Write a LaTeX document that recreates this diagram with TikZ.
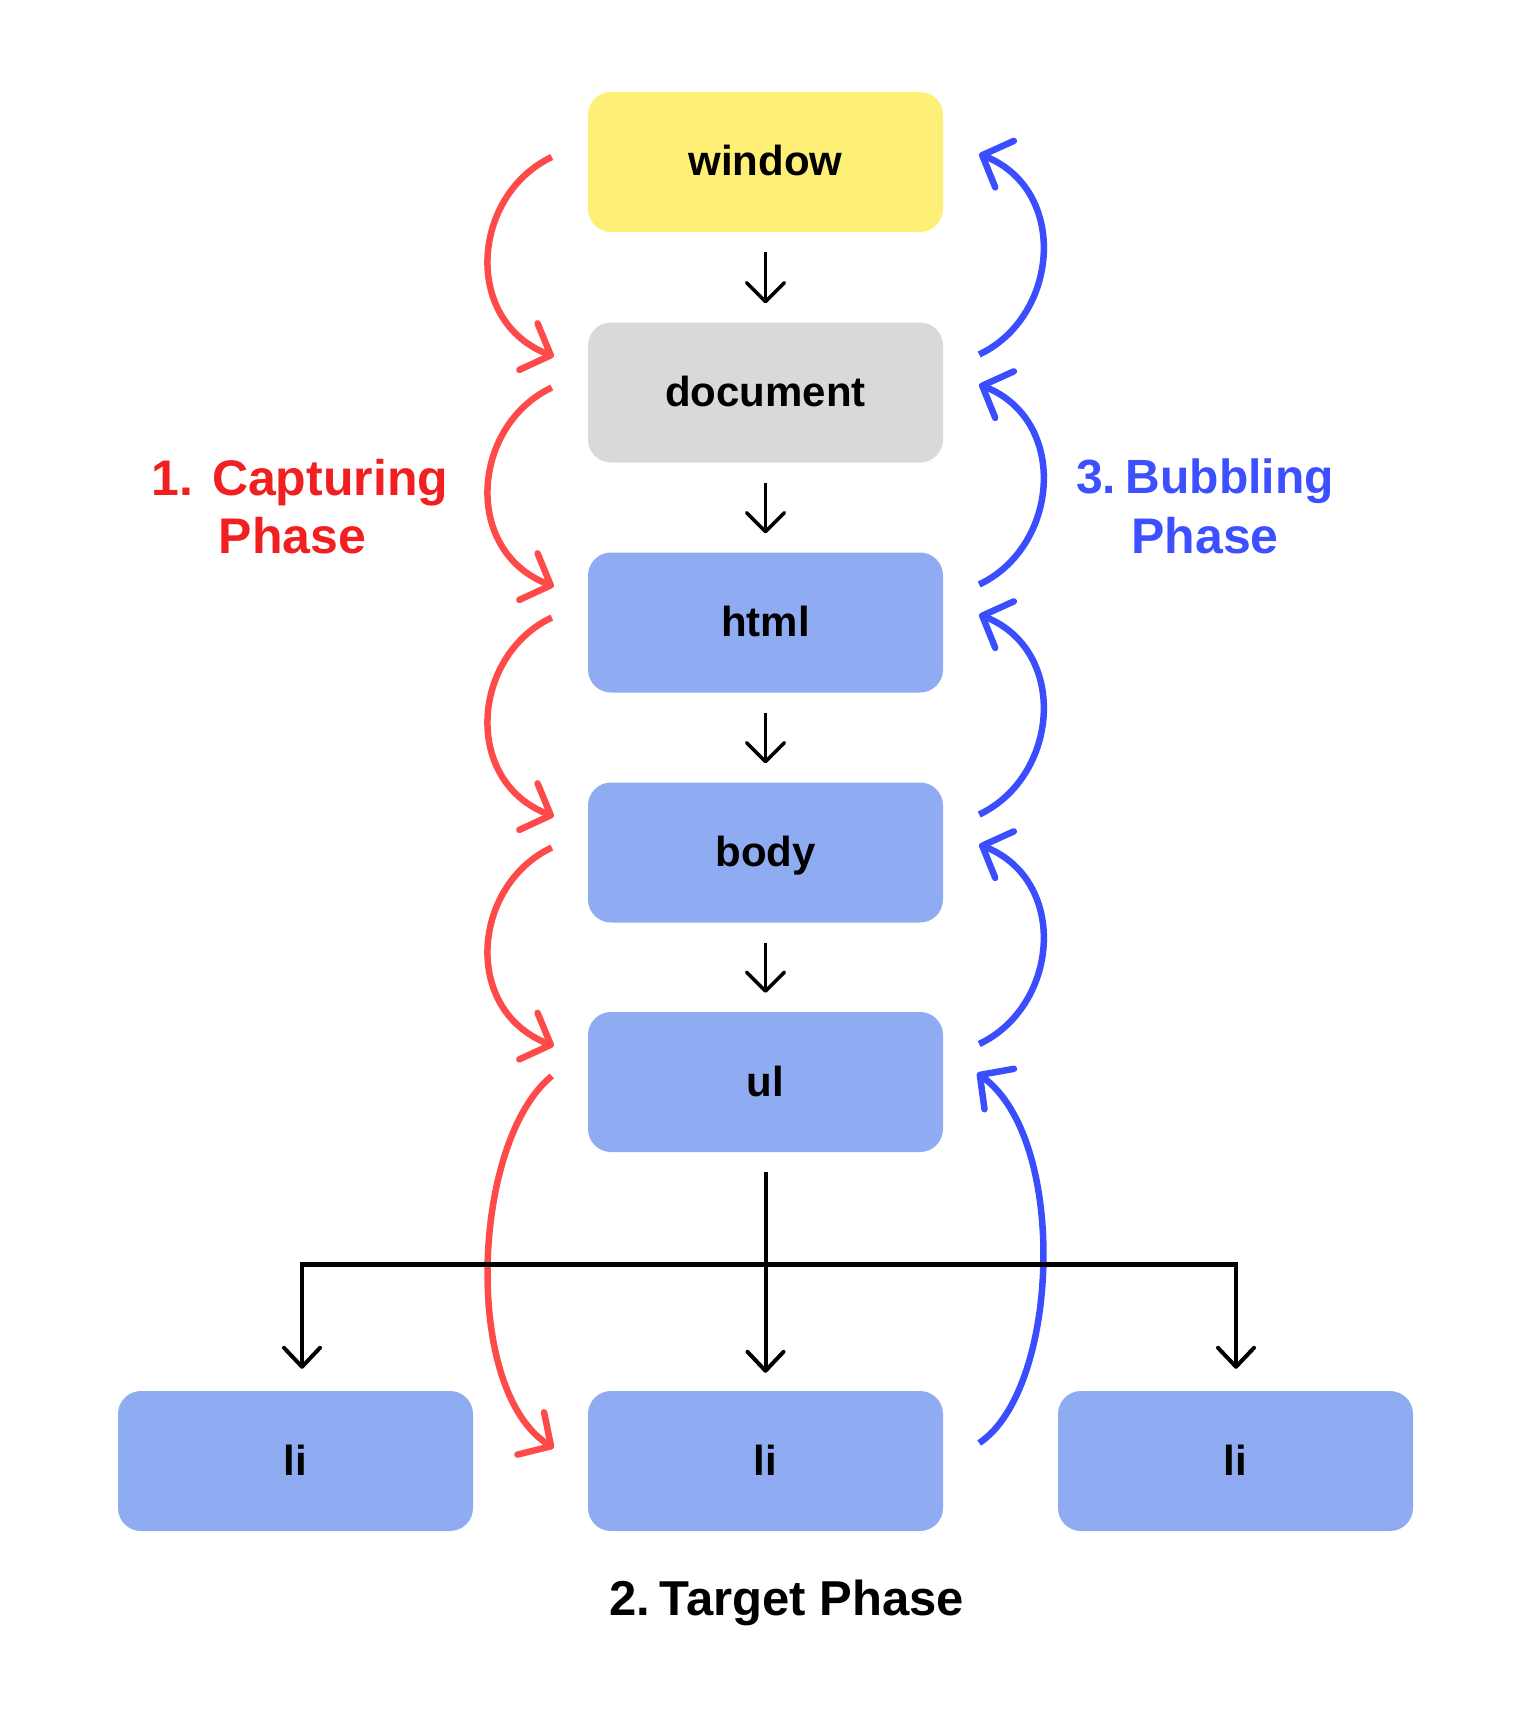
\documentclass[tikz,border=0pt]{standalone}
\usepackage{fontspec}
\setmainfont{Liberation Sans}
\usetikzlibrary{arrows.meta,calc}
\definecolor{winyellow}{HTML}{FEF076}
\definecolor{docgray}{HTML}{D9D9D9}
\definecolor{boxblue}{HTML}{8FABF2}
\definecolor{arcred}{HTML}{FF4A4A}
\definecolor{arcblue}{HTML}{3B4EFF}
\definecolor{labred}{HTML}{F11F1F}
\definecolor{labblue}{HTML}{3D50FF}
\begin{document}
\begin{tikzpicture}[x=1pt,y=-1pt,
  boxnode/.style={rectangle, rounded corners=23pt, minimum width=355pt, minimum height=140pt,
    inner sep=0pt, text height=36pt, text depth=8pt,
    font=\fontsize{42pt}{50pt}\selectfont\bfseries},
  smallarrow/.style={line width=3.5pt, -{Straight Barb[length=19pt,width=38pt,line cap=round,line join=round]}},
  treearrow/.style={line width=4pt, -{Straight Barb[length=19pt,width=36pt,line cap=round,line join=round]}},
  bigarc/.style={line width=6.5pt, -{Straight Barb[length=24pt,width=50pt,line cap=round,line join=round]}},
  redarc/.style={bigarc, arcred},
  bluearc/.style={bigarc, arcblue},
  phaselabel/.style={anchor=base, inner sep=0pt, font=\fontsize{50pt}{60pt}\selectfont\bfseries}
]
\useasboundingbox (0,0) rectangle (1531,1720);
\fill[white] (0,0) rectangle (1531,1720);

% boxes
\node[boxnode, fill=winyellow] (w) at (765.5,162) {window};
\node[boxnode, fill=docgray]   (d) at (765.5,392.5) {document};
\node[boxnode, fill=boxblue]   (h) at (765.5,622.5) {html};
\node[boxnode, fill=boxblue]   (b) at (765.5,852.5) {body};
\node[boxnode, fill=boxblue]   (u) at (765.5,1082) {ul};
\node[boxnode, fill=boxblue]   (l1) at (295.5,1461) {li};
\node[boxnode, fill=boxblue]   (l2) at (765.5,1461) {li};
\node[boxnode, fill=boxblue]   (l3) at (1235.5,1461) {li};

% small arrows between stacked boxes
\foreach \a/\b in {w/d, d/h, h/b, b/u}{
  \draw[smallarrow] ($(\a.south)+(0,20)$) -- ($(\b.north)+(0,-19)$);
}

% capturing arcs (red)
\foreach \a/\b in {w/d, d/h, h/b, b/u}{
  \draw[redarc] ($(\a.west)+(-36,-5)$) .. controls +(-80,38) and +(-92,-36) .. ($(\b.west)+(-34,-36)$);
}
\draw[redarc] ($(u.west)+(-36,-6)$) .. controls +(-80,65) and +(-92,-58) .. ($(l2.west)+(-34,-13)$);

% bubbling arcs (blue)
\foreach \a/\b in {w/d, d/h, h/b, b/u}{
  \draw[bluearc] ($(\b.east)+(36,-38)$) .. controls +(80,-38) and +(90,36) .. ($(\a.east)+(36,-8)$);
}
\draw[bluearc] ($(l2.east)+(36,-18)$) .. controls +(80,-53) and +(92,67) .. ($(u.east)+(34,-9)$);

% tree from ul to li
\coordinate (ustart) at ($(u.south)+(0,20)$);
\coordinate (bl) at (302,1264);
\coordinate (bm) at (765.5,1264);
\coordinate (br) at (1236,1264);
\coordinate (la) at ($(bl |- l1.north)+(0,-22)$);
\coordinate (ma) at ($(l2.north)+(0,-18)$);
\coordinate (ra) at ($(br |- l3.north)+(0,-22)$);
\draw[line width=5pt] (bl) -- (br);
\draw[treearrow] (ustart) -- (ma);
\draw[treearrow] ([yshift=2pt]bl) -- (la);
\draw[treearrow] ([yshift=2pt]br) -- (ra);

% labels
\node[phaselabel, labred] (cap1) at (300,495) {1. Capturing};
\node[phaselabel, labred] (cap2) at (292.5,553) {Phase};
\node[phaselabel, labblue, font=\fontsize{48pt}{58pt}\selectfont\bfseries] (bub1) at (1205,493) {3.\hspace{0.2em}Bubbling};
\node[phaselabel, labblue] (bub2) at (1205,553) {Phase};
\node[phaselabel, black, font=\fontsize{49pt}{58pt}\selectfont\bfseries] (tgt) at (786.5,1615) {2.\hspace{0.2em}Target Phase};
\end{tikzpicture}
\end{document}
